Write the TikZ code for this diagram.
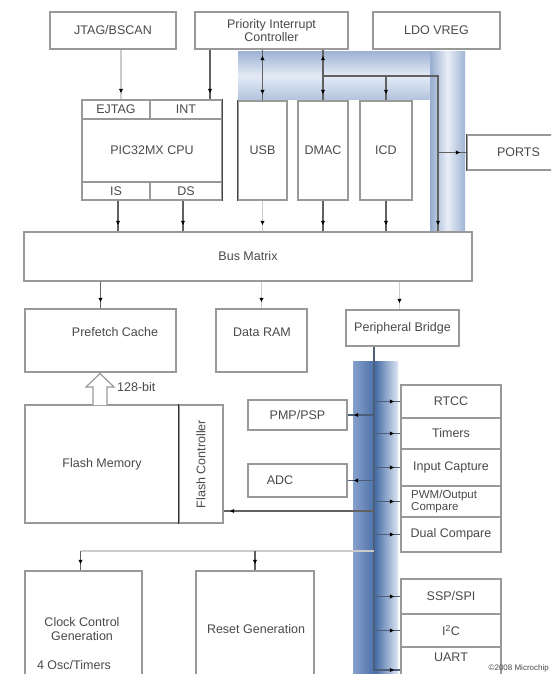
\documentclass[tikz,border=0pt]{standalone}
\usepackage{fontspec}
\setmainfont{Liberation Sans}
\usetikzlibrary{arrows.meta,decorations.markings,calc}
\definecolor{txt}{HTML}{4A4A4A}
\definecolor{busc}{HTML}{4C5D78}
\tikzset{
  box/.style={draw=black!40, line width=1.3pt, fill=white, inner sep=0pt,
    text=txt, font=\fontsize{12.5}{13.5}\selectfont, align=center},
  lbl/.style={text=txt, font=\fontsize{12.5}{13.5}\selectfont, align=center, inner sep=0pt},
  conn/.style={line width=1.2pt, draw=black!62},
  lconn/.style={line width=1.2pt, draw=black!20},
  busline/.style={line width=1.2pt, draw=busc},
  tipped/.style={postaction={decorate}, decoration={markings,
    mark=at position -6pt with {\arrow{Latex[length=4.5pt,width=4.5pt,color=black]}}}},
  bitipped/.style={postaction={decorate}, decoration={markings,
    mark=at position 6pt with {\arrowreversed{Latex[length=4.5pt,width=4.5pt,color=black]}},
    mark=at position -6pt with {\arrow{Latex[length=4.5pt,width=4.5pt,color=black]}}}},
  darkedge/.style={line width=1.3pt, draw=black!72}
}
\begin{document}
\begin{tikzpicture}[x=1pt,y=-1pt]
\useasboundingbox (0,0) rectangle (551,674);
\clip (0,0) rectangle (551,674);
\fill[white] (0,0) rectangle (551,674);

% blue bands
\shade[left color={rgb,255:red,150;green,172;blue,207}, right color={rgb,255:red,160;green,180;blue,212}, middle color={rgb,255:red,232;green,238;blue,247}] (430,52) rectangle (465,230);
\shade[top color={rgb,255:red,160;green,180;blue,212}, bottom color={rgb,255:red,178;green,195;blue,221}, middle color={rgb,255:red,228;green,235;blue,246}] (238,52) rectangle (430,100);
\shade[left color={rgb,255:red,135;green,160;blue,204}, right color={rgb,255:red,221;green,229;blue,242}, middle color={rgb,255:red,72;green,110;blue,168}] (353,361) rectangle (398,674);

% top row
\node[box, minimum width=126pt, minimum height=37pt] (jtag) at (113,30.5) {JTAG/BSCAN};
\node[box, minimum width=153pt, minimum height=37pt] (pic) at (271.5,30.5) {Priority Interrupt\\Controller};
\node[box, minimum width=127pt, minimum height=37pt] (ldo) at (436.5,30.5) {LDO VREG};

% CPU
\node[box, minimum width=140pt, minimum height=100pt] (cpu) at (152,150) {PIC32MX CPU};
\node[box, minimum width=68pt, minimum height=19pt] (ejtag) at (116,109.5) {EJTAG};
\node[box, minimum width=72pt, minimum height=19pt] (int) at (186,109.5) {INT};
\node[box, minimum width=68pt, minimum height=18pt] (is) at (116,191) {IS};
\node[box, minimum width=72pt, minimum height=18pt] (ds) at (186,191) {DS};
\draw[darkedge] (cpu.north east) -- (cpu.south east);

\node[box, minimum width=49pt, minimum height=99pt] (usb) at (262.5,150.5) {USB};
\node[box, minimum width=50pt, minimum height=99pt] (dmac) at (323,150.5) {DMAC};
\node[box, minimum width=52pt, minimum height=99pt] (icd) at (386,150.5) {ICD};
\node[box, minimum width=103pt, minimum height=35pt] (ports) at (518.5,152.5) {PORTS};
\draw[darkedge] (usb.north west) -- (usb.south west);
\draw[darkedge] (ports.north west) -- (ports.south west);

% bus matrix
\node[box, minimum width=448pt, minimum height=49pt] (bm) at (248,256.5) {Bus Matrix};

\node[box, minimum width=151pt, minimum height=63pt] (prefetch) at (100.5,340.5) {};
\node[lbl] (prefetchlbl) at (115,332) {Prefetch Cache};
\node[box, minimum width=91pt, minimum height=63pt] (dataram) at (261.5,340.5) {};
\node[lbl] (dataramlbl) at (262,332) {Data RAM};
\node[box, minimum width=113pt, minimum height=36pt] (bridge) at (402.5,328) {Peripheral Bridge};

% flash
\node[box, minimum width=154pt, minimum height=118pt] (flashmem) at (102,464) {Flash Memory};
\node[box, minimum width=44pt, minimum height=118pt] (flashctl) at (201,464) {};
\node[lbl, rotate=90] (flashctllbl) at (201,464) {Flash Controller};
\draw[line width=1.4pt, draw=black!82] (flashctl.north west) -- (flashctl.south west);

% 128-bit arrow
\draw[line width=1.2pt, draw=black!40, fill=white, line join=miter]
  (93,405) -- (93,387) -- (86,387) -- (100,373.5) -- (114,387) -- (107,387) -- (107,405);
\node[lbl, anchor=west] (bits) at (117,387) {128-bit};

% left peripherals
\node[box, minimum width=99pt, minimum height=30pt] (pmp) at (297.5,415) {PMP/PSP};
\node[box, minimum width=99pt, minimum height=33pt] (adc) at (297.5,480.5) {};
\node[lbl] (adclbl) at (280,480.5) {ADC};

% right peripherals
\node[box, minimum width=100pt, minimum height=33pt] (rtcc) at (451,401.5) {RTCC};
\node[box, minimum width=100pt, minimum height=31pt] (timers) at (451,433.5) {Timers};
\node[box, minimum width=100pt, minimum height=37pt] (incap) at (451,467.5) {Input Capture};
\node[box, minimum width=100pt, minimum height=31pt] (pwm) at (451,501.5) {};
\node[lbl, anchor=west, align=left, font=\fontsize{11.5}{12}\selectfont] (pwmlbl) at (411,501.5) {PWM/Output\\Compare};
\node[box, minimum width=100pt, minimum height=35pt] (dual) at (451,534.5) {Dual Compare};
\node[box, minimum width=100pt, minimum height=35pt] (ssp) at (451,596.5) {SSP/SPI};
\node[box, minimum width=100pt, minimum height=33pt] (i2c) at (451,630.5) {I\textsuperscript{2}C};
\node[box, minimum width=100pt, minimum height=46pt] (uart) at (451,670) {};
\node[lbl] (uartlbl) at (451,657) {UART};

% bottom blocks
\node[box, minimum width=117pt, minimum height=129pt] (clk) at (83.5,635.5) {};
\node[lbl] (clklbl) at (82,629) {Clock Control\\Generation};
\node[lbl] (osclbl) at (74,665) {4 Osc/Timers};
\node[box, minimum width=118pt, minimum height=129pt] (reset) at (255,635.5) {};
\node[lbl] (resetlbl) at (256,629) {Reset Generation};

% top connectors
\coordinate (ybus) at (0,76);
\coordinate (corner) at (438,76);
\coordinate (jx) at ([xshift=5pt]ejtag.north);
\coordinate (ix) at ([xshift=24pt]int.north);
\draw[lconn,tipped] (jx |- jtag.south) -- (jx);
\draw[conn,tipped] (ix |- pic.south) -- (ix);
\draw[conn,bitipped] (usb.north |- pic.south) -- (usb.north);
\draw[conn,bitipped] (dmac.north |- pic.south) -- (dmac.north);
\draw[conn,tipped] (dmac.north |- ybus) -- (corner) -- (corner |- bm.north);
\draw[conn,tipped] (icd.north |- ybus) -- (icd.north);
\draw[conn,tipped] (corner |- ports.west) -- (ports.west);

% into bus matrix
\coordinate (isx) at ([xshift=2pt]is.south);
\coordinate (dsx) at ([xshift=-3pt]ds.south);
\draw[conn,tipped] (isx) -- (isx |- bm.north);
\draw[conn,tipped] (dsx) -- (dsx |- bm.north);
\draw[lconn,tipped] (usb.south) -- (usb.south |- bm.north);
\draw[conn,tipped] (dmac.south) -- (dmac.south |- bm.north);
\draw[conn,tipped] (icd.south) -- (icd.south |- bm.north);

% out of bus matrix
\coordinate (bx) at ([xshift=-3pt]bridge.north);
\draw[conn,tipped] (bm.south -| prefetch.north) -- (prefetch.north);
\draw[lconn,tipped] (bm.south -| dataram.north) -- (dataram.north);
\draw[lconn,tipped] (bm.south -| bx) -- (bx);

% peripheral bus
\coordinate (bus) at (bridge.south -| 374,0);
\draw[busline,tipped] (bus) -- (bus |- uart.west) -- (uart.west);
\foreach \n in {rtcc,timers,incap,pwm,dual,ssp,i2c}
  \draw[busline,tipped] (bus |- \n.west) -- (\n.west);
\draw[busline,tipped] (bus |- pmp.east) -- (pmp.east);
\draw[busline,tipped] (bus |- adc.east) -- (adc.east);
\coordinate (fy) at (0,511);
\draw[conn,tipped] (bus |- fy) -- (flashctl.east |- fy);
\coordinate (cy) at (0,551);
\coordinate (cx) at ([xshift=-3pt]clk.north);
\draw[lconn] (bus |- cy) -- (cx |- cy);
\draw[conn,tipped] (cx |- cy) -- (cx);
\draw[conn,tipped] (reset.north |- cy) -- (reset.north);

\node[text=txt, font=\fontsize{8}{9}\selectfont, anchor=south east, inner sep=0pt] (code) at (549,672) {©2008 Microchip};
\end{tikzpicture}
\end{document}
